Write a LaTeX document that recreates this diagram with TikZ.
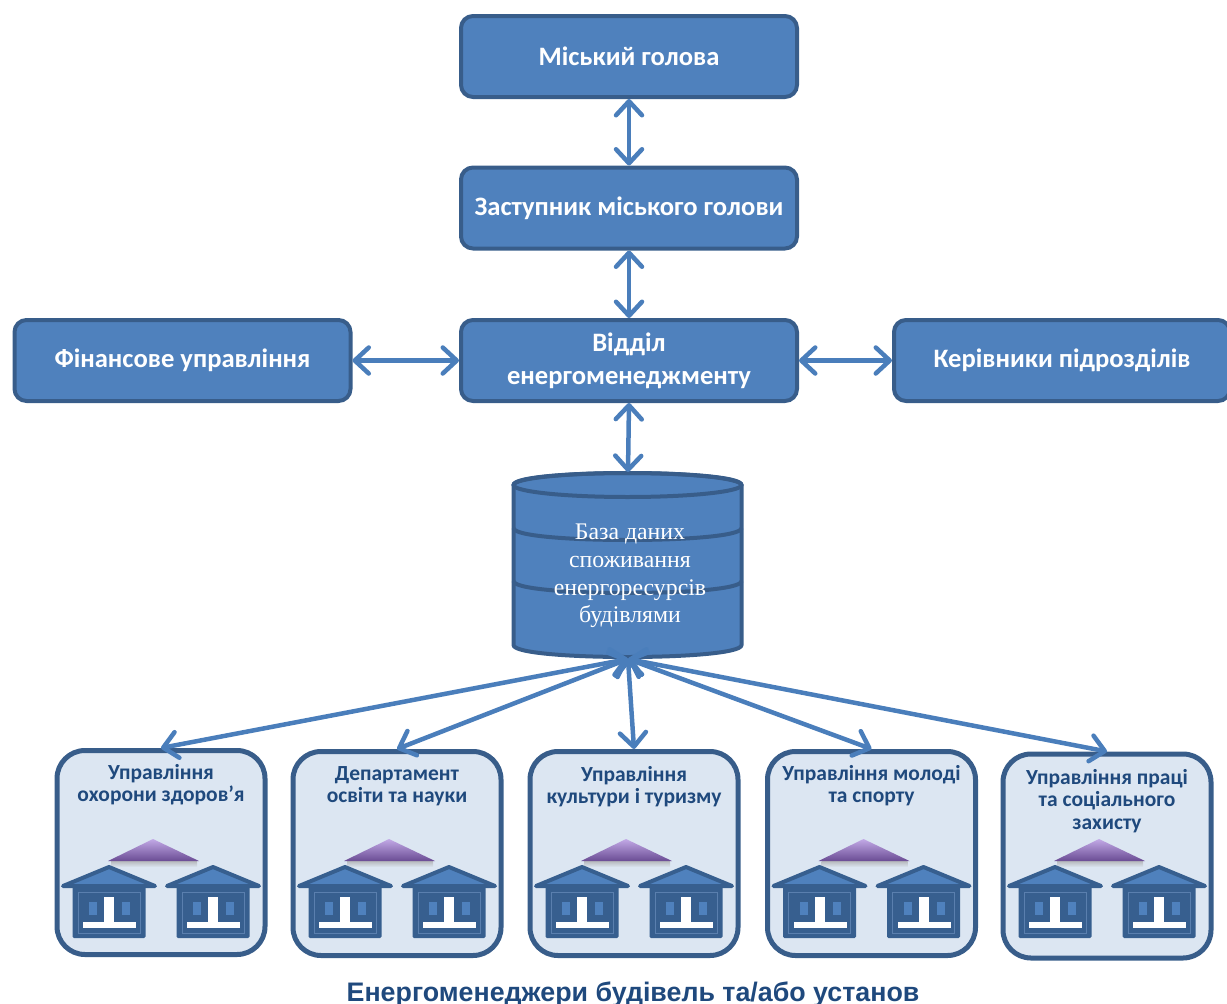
\documentclass[tikz,border=0pt]{standalone}
\usepackage{fontspec}
\setmainfont{Carlito}
\newfontfamily\arialf{Liberation Sans}
\newfontfamily\timesf{Liberation Serif}
\usetikzlibrary{arrows.meta}
\definecolor{boxfill}{HTML}{4F81BD}
\definecolor{boxline}{HTML}{385D8A}
\definecolor{arrowc}{HTML}{4A7EBB}
\definecolor{lightfill}{HTML}{DCE6F2}
\definecolor{darktext}{HTML}{1F497D}
\definecolor{housedark}{HTML}{375F8F}
\definecolor{houseframe}{HTML}{5A7FAE}
\definecolor{purpleA}{HTML}{C2A9E6}
\definecolor{purpleB}{HTML}{6A4C94}
\newcommand{\drawhouse}[1]{%
  \begin{scope}[shift={(#1,0)}]
    \fill[housedark, rounded corners=1.5pt] (-36.5,884) rectangle (36.5,938);
    \draw[houseframe, line width=0.8pt] (-31,892) rectangle (31,933);
    \fill[boxfill] (-20,902) rectangle (-12,915);
    \fill[boxfill] (13,902) rectangle (21,915);
    \fill[white] (-5,897) rectangle (5,922);
    \fill[white] (-26,922) rectangle (27,928);
    \filldraw[fill=boxfill, draw=housedark, line width=4pt, line join=round] (-46,886) -- (0,867) -- (46,886) -- cycle;
  \end{scope}}
\newcommand{\unitpics}[1]{%
  \begin{scope}[shift={(#1,0)}]
    \shade[top color=black!35, bottom color=lightfill, opacity=0.7] (-50,861) rectangle (36,867);
    \shade[top color=purpleA, bottom color=purpleB] (-53,861) -- (-8,839) -- (38,861) -- cycle;
  \end{scope}
  \drawhouse{#1-52}
  \drawhouse{#1+52}}
\begin{document}
\begin{tikzpicture}[x=1pt,y=-1pt,
  topbox/.style={draw=boxline, fill=boxfill, line width=4pt, rounded corners=12pt, minimum width=336pt, minimum height=81pt, text=white, align=center, font=\bfseries\fontsize{26.6}{33}\selectfont, inner sep=0pt},
  unitbox/.style={draw=boxline, fill=lightfill, line width=5pt, rounded corners=28pt, minimum width=208pt, minimum height=204pt, inner sep=0pt},
  unitlabel/.style={text=darktext, align=center, font=\bfseries\fontsize{21.5}{22.5}\selectfont, anchor=north, inner sep=0pt},
  conn/.style={draw=arrowc, line width=4.5pt, {Straight Barb[round,length=14pt,width=26pt]}-{Straight Barb[round,length=14pt,width=26pt]}},
]
\useasboundingbox (0,0) rectangle (1227,1004);
% top boxes
\node[topbox] (b1) at (629,56.5) {Міський голова};
\node[topbox] (b2) at (629,208) {Заступник міського голови};
\node[topbox] (b3) at (629,360.5) {Відділ\\енергоменеджменту};
\node[topbox] (fin) at (182.5,360.5) {Фінансове управління};
\node[topbox] (ker) at (1062,360.5) {Керівники підрозділів};
% cylinder
\path[draw=boxline, fill=boxfill, line width=4pt] (513.5,485) -- (513.5,645) .. controls (513.5,661) and (741.5,661) .. (741.5,645) -- (741.5,485) .. controls (741.5,469) and (513.5,469) .. (513.5,485) -- cycle;
\draw[boxline, line width=4pt] (627.5,485) ellipse [x radius=114pt, y radius=12pt];
\draw[boxline, line width=4pt] (513.5,528) .. controls (513.5,544) and (741.5,544) .. (741.5,528);
\draw[boxline, line width=4pt] (513.5,581) .. controls (513.5,597) and (741.5,597) .. (741.5,581);
\node[text=white, font=\timesf\fontsize{23.8}{27.6}\selectfont, align=center, inner sep=0pt] (dbtext) at (630,576) {База даних\\споживання\\енергоресурсів\\будівлями};
\coordinate (dbtop) at (628,472);
\coordinate (dbbot) at (628,659);
% unit boxes
\node[unitbox] (ua) at (161,852.5) {};
\node[unitbox] (ub) at (397,853.5) {};
\node[unitbox] (uc) at (634,853.5) {};
\node[unitbox] (ud) at (871.5,853.5) {};
\node[unitbox] (ue) at (1107,856) {};
\node[unitlabel] (la) at (161,764) {Управління\\охорони здоров’я};
\node[unitlabel] (lb) at (397,766) {Департамент\\освіти та науки};
\node[unitlabel] (lc) at (634,766) {Управління\\культури і туризму};
\node[unitlabel] (ld) at (871.5,765) {Управління молоді\\та спорту};
\node[unitlabel] (le) at (1107,769) {Управління праці\\та соціального\\захисту};
\unitpics{161}
\unitpics{397}
\unitpics{634}
\unitpics{871.5}
\unitpics{1107}
% connectors
\draw[conn] (b1.south) -- (b2.north);
\draw[conn] (b2.south) -- (b3.north);
\draw[conn] (b3.south) -- (dbtop);
\draw[conn] (fin.east) -- (b3.west);
\draw[conn] (b3.east) -- (ker.west);
\draw[conn] (dbbot) -- (ua.north);
\draw[conn] (dbbot) -- (ub.north);
\draw[conn] (dbbot) -- (uc.north);
\draw[conn] (dbbot) -- (ud.north);
\draw[conn] (dbbot) -- (ue.north);
\node[font=\arialf\bfseries\fontsize{26.8}{30}\selectfont, text=darktext, anchor=base, inner sep=0pt] (title) at (633,1001) {Енергоменеджери будівель та/або установ};
\end{tikzpicture}
\end{document}
